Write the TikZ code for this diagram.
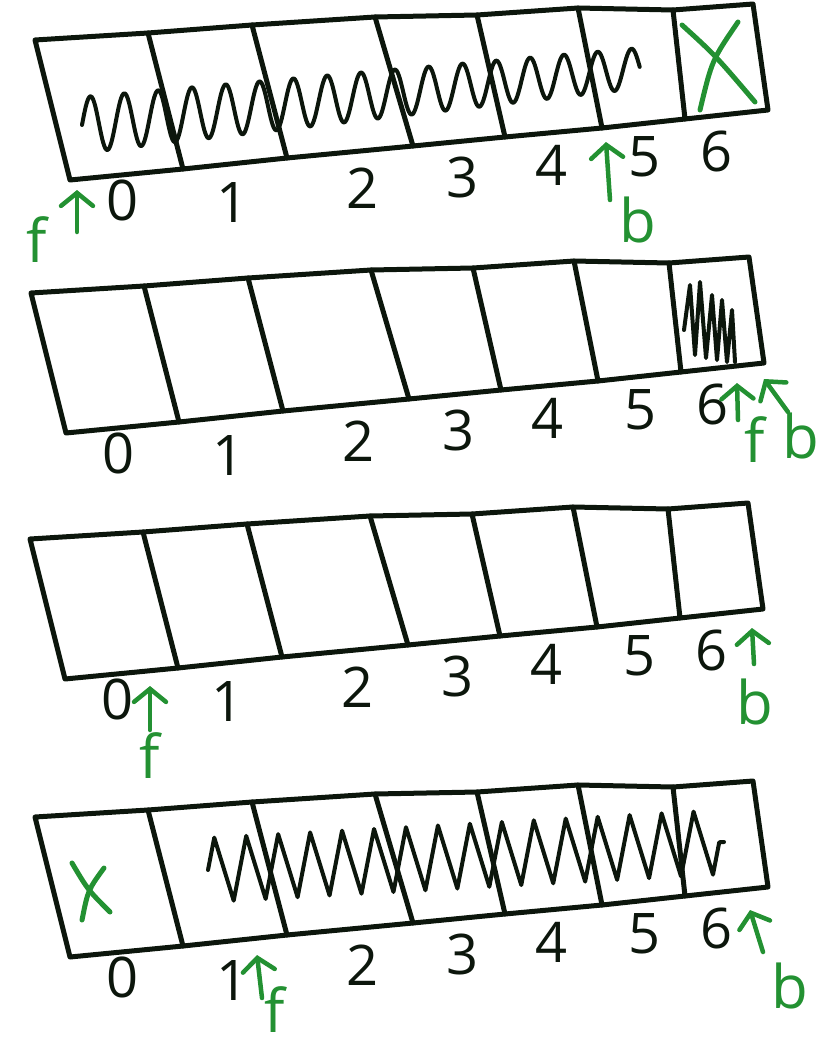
\documentclass[tikz,border=0pt]{standalone}
\usepackage{fontspec}
\setmainfont{Open Sans}
\usetikzlibrary{arrows.meta, decorations.pathmorphing}

\definecolor{ink}{RGB}{12,22,12}
\definecolor{pen}{RGB}{35,145,50}

\tikzset{
  cellline/.style={ink, line width=5pt, line join=round, line cap=round},
  fill scribble/.style={ink, line width=4pt, line join=round, line cap=round},
  idx/.style={ink, font=\fontsize{56}{56}\selectfont, inner sep=0pt},
  tag/.style={pen, font=\fontsize{60}{60}\selectfont, inner sep=0pt},
  ptr/.style={pen, line width=4.5pt, line cap=round,
    -{Straight Barb[length=13pt, width=32pt, line cap=round]}},
  crossout/.style={pen, line width=5pt, line cap=round},
}

\begin{document}
\begin{tikzpicture}[x=1pt, y=-1pt]
    \useasboundingbox (0,0) rectangle (823,1049);

    % Four copies of the 7-slot array, one under the other
    \foreach \dx/\dy [count=\r] in {0/0, -4/253, -5/499, 0/777} {
      \begin{scope}[shift={(\dx,\dy)}]
        \draw[cellline] (35,40) -- (148,33) -- (252,25) -- (375,17) -- (477,15) -- (578,8) -- (673,10) -- (753,4)
          -- (768,110) -- (685,119) -- (602,128) -- (505,137) -- (413,146) -- (287,158) -- (183,169) -- (70,180) -- cycle;
        \foreach \tx/\ty/\bx/\by in {148/33/183/169, 252/25/287/158, 375/17/413/146,
                                     477/15/505/137, 578/8/602/128, 673/10/685/119}
          \draw[cellline] (\tx,\ty) -- (\bx,\by);
        % slot numbers
        \foreach \i/\x/\y in {0/123/200, 1/233/203, 2/363/188, 3/463/177, 4/552/165, 5/645/157, 6/717/151}
          \node[idx] (n\r-\i) at (\x,\y) {\i};
      \end{scope}
    }

    % Array 1: slots 0-5 scribbled, slot 6 crossed out
    \draw[fill scribble] plot[domain=0:1, samples=500, smooth]
      ({82+558*\x}, {125-57*\x-(28-8*\x)*sin(16.5*360*\x)});
    \draw[crossout] (682,25) .. controls (715,55) .. (755,102);
    \draw[crossout] (738,22) .. controls (712,60) .. (700,110);

    \node[tag] (f1) at (37,240) {f};
    \coordinate (f1tail) at (77,232);
    \coordinate (f1tip) at (77,190);
    \draw[ptr] (f1tail) -- (f1tip);

    \node[tag] (b1) at (638,220) {b};
    \coordinate (b1tail) at (610,200);
    \coordinate (b1tip) at (606,142);
    \draw[ptr] (b1tail) -- (b1tip);

    % Array 2: only slot 6 scribbled
    \draw[fill scribble] (684,330) -- (690,285) -- (695,355) -- (700,282) -- (706,358) -- (712,295)
      -- (717,360) -- (722,300) -- (727,362) -- (732,310) -- (735,362);

    \node[tag] (f2) at (755,440) {f};
    \coordinate (f2tail) at (738,420);
    \coordinate (f2tip) at (737,383);
    \draw[ptr] (f2tail) -- (f2tip);

    \node[tag] (b2) at (801,436) {b};
    \coordinate (b2tail) at (788,412);
    \coordinate (b2tip) at (764,379);
    \draw[ptr] (b2tail) -- (b2tip);

    % Array 3: empty
    \node[tag] (f3) at (150,756) {f};
    \coordinate (f3tail) at (150,730);
    \coordinate (f3tip) at (150,686);
    \draw[ptr] (f3tail) -- (f3tip);

    \node[tag] (b3) at (755,702) {b};
    \coordinate (b3tail) at (754,664);
    \coordinate (b3tip) at (752,628);
    \draw[ptr] (b3tail) -- (b3tip);

    % Array 4: slot 0 crossed out, slots 1-6 scribbled
    \draw[crossout] (72,863) .. controls (88,890) .. (110,912);
    \draw[crossout] (104,868) .. controls (88,890) .. (82,920);
    \draw[fill scribble, decorate, decoration={zigzag, segment length=32pt, amplitude=32pt}] (208,870) -- (724,842);

    \node[tag] (f4) at (275,1010) {f};
    \coordinate (f4tail) at (262,998);
    \coordinate (f4tip) at (257,955);
    \draw[ptr] (f4tail) -- (f4tip);

    \node[tag] (b4) at (790,986) {b};
    \coordinate (b4tail) at (763,952);
    \coordinate (b4tip) at (750,910);
    \draw[ptr] (b4tail) -- (b4tip);
\end{tikzpicture}
\end{document}
